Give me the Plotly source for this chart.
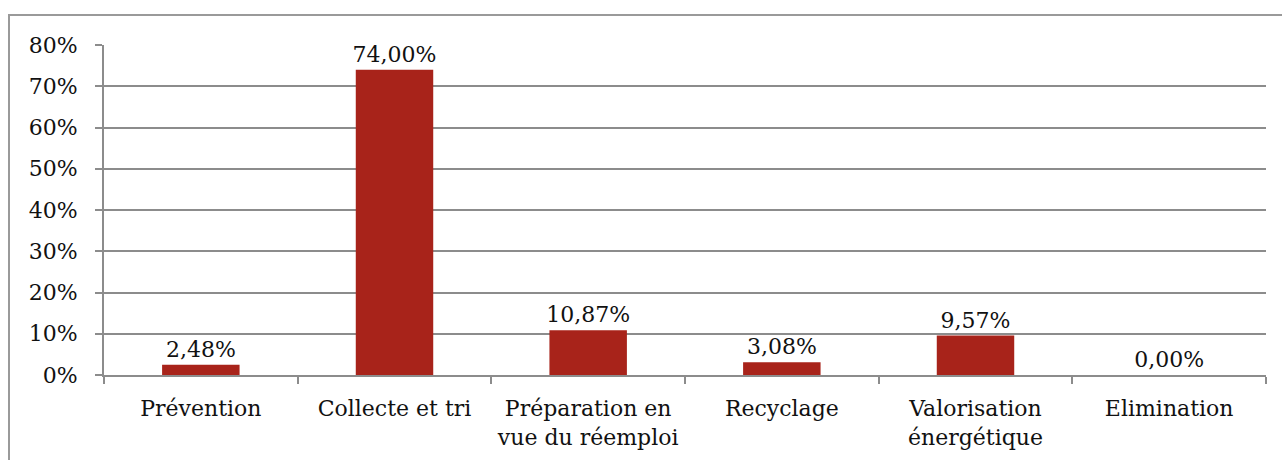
import plotly.graph_objects as go

categories = [
    "Prévention",
    "Collecte et tri",
    "Préparation en<br>vue du réemploi",
    "Recyclage",
    "Valorisation<br>énergétique",
    "Elimination",
]
values = [2.48, 74.00, 10.87, 3.08, 9.57, 0.00]
y_ticks = [0, 10, 20, 30, 40, 50, 60, 70, 80]
y_tick_text = [f"{v}%" for v in y_ticks]

labels = [f"{v:.2f}".replace(".", ",") + "%" for v in values]

FONT = "DejaVu Serif"
FS = 22
GRID = "#8c8c8c"

fig = go.Figure(
    go.Bar(
        x=categories,
        y=values,
        text=labels,
        textposition="outside",
        cliponaxis=False,
        textfont=dict(family=FONT, size=FS, color="#111111"),
        marker=dict(color="#A8231A", line=dict(width=0)),
        width=0.4,
    )
)

W, H = 1282, 460
L, R, T, B = 104, 16, 45, 85
pw, ph = W - L - R, H - T - B

fig.update_layout(
    width=W,
    height=H,
    margin=dict(l=L, r=R, t=T, b=B, pad=0),
    paper_bgcolor="white",
    plot_bgcolor="white",
    showlegend=False,
    font=dict(family=FONT, size=FS, color="#111111"),
    bargap=0.6,
    uniformtext=dict(minsize=FS, mode="show"),
    shapes=[
        dict(
            type="rect",
            xref="paper",
            yref="paper",
            x0=(9 - L) / pw,
            x1=(W + 10 - L) / pw,
            y0=(T + ph - (H + 10)) / ph,
            y1=(T + ph - 15) / ph,
            line=dict(color="#9a9a9a", width=2),
            layer="below",
        )
    ],
)

fig.update_xaxes(
    type="category",
    automargin=False,
    showline=True,
    linecolor=GRID,
    linewidth=2,
    ticks="outside",
    tickson="boundaries",
    ticklen=7,
    tickwidth=2,
    tickcolor=GRID,
    showgrid=False,
    tickfont=dict(family=FONT, size=FS, color="#111111"),
    ticklabelstandoff=13,
)
fig.update_yaxes(
    range=[0, 80],
    automargin=False,
    tickvals=y_ticks,
    ticktext=y_tick_text,
    showline=True,
    linecolor=GRID,
    linewidth=2,
    ticks="outside",
    ticklen=7,
    tickwidth=2,
    tickcolor=GRID,
    showgrid=True,
    gridcolor=GRID,
    gridwidth=2,
    zeroline=False,
    tickfont=dict(family=FONT, size=FS, color="#111111"),
    ticklabelstandoff=13,
)

fig.write_html("out.html")
